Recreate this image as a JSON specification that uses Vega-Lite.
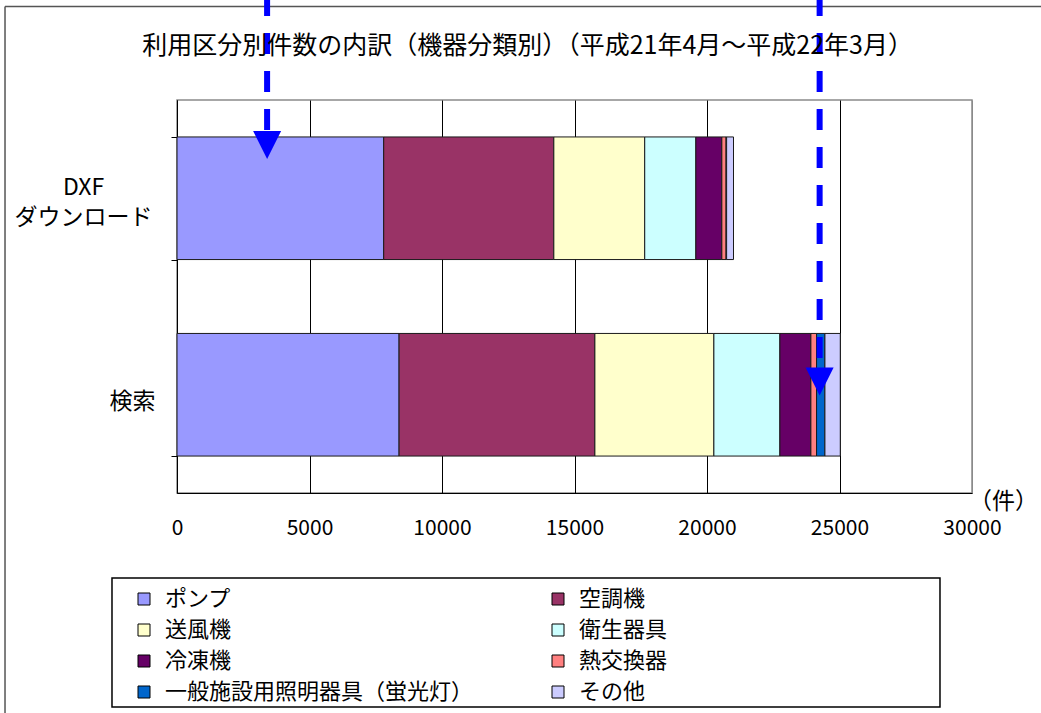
{
  "$schema": "https://vega.github.io/schema/vega-lite/v6.json",
  "width": 795,
  "height": 393,
  "autosize": {"type": "none"},
  "padding": {"left": 177, "top": 100, "right": 69, "bottom": 220},
  "background": "white",
  "config": {
    "font": "Noto Sans CJK JP",
    "view": {"stroke": "#8a8a8a", "strokeWidth": 1.5}
  },
  "title": {
    "text": "利用区分別件数の内訳（機器分類別）（平成21年4月～平成22年3月）",
    "fontSize": 25,
    "fontWeight": "normal",
    "color": "black",
    "anchor": "middle",
    "frame": "group",
    "dx": -47,
    "baseline": "middle",
    "offset": -79
  },
  "datasets": {
    "counts": [
      {"use": "DXFダウンロード", "kind": "ポンプ", "idx": 1, "count": 7800},
      {"use": "DXFダウンロード", "kind": "空調機", "idx": 2, "count": 6420},
      {"use": "DXFダウンロード", "kind": "送風機", "idx": 3, "count": 3430},
      {"use": "DXFダウンロード", "kind": "衛生器具", "idx": 4, "count": 1930},
      {"use": "DXFダウンロード", "kind": "冷凍機", "idx": 5, "count": 980},
      {"use": "DXFダウンロード", "kind": "熱交換器", "idx": 6, "count": 160},
      {"use": "DXFダウンロード", "kind": "一般施設用照明器具（蛍光灯）", "idx": 7, "count": 20},
      {"use": "DXFダウンロード", "kind": "その他", "idx": 8, "count": 260},
      {"use": "検索", "kind": "ポンプ", "idx": 1, "count": 8380},
      {"use": "検索", "kind": "空調機", "idx": 2, "count": 7390},
      {"use": "検索", "kind": "送風機", "idx": 3, "count": 4490},
      {"use": "検索", "kind": "衛生器具", "idx": 4, "count": 2490},
      {"use": "検索", "kind": "冷凍機", "idx": 5, "count": 1170},
      {"use": "検索", "kind": "熱交換器", "idx": 6, "count": 215},
      {"use": "検索", "kind": "一般施設用照明器具（蛍光灯）", "idx": 7, "count": 315},
      {"use": "検索", "kind": "その他", "idx": 8, "count": 580}
    ],
    "frame": [
      {"x": -6490, "x2": 32980, "y": 1.238, "y2": 1.238},
      {"x": -6490, "x2": -6490, "y": 1.238, "y2": -0.6}
    ],
    "legendBox": [
      {"x": -2453, "x2": 28792, "y": -0.2163, "y2": -0.5445}
    ],
    "arrows": [
      {"x": 3400, "top": 1.267, "end": 0.919, "tip": 0.8855},
      {"x": 24250, "top": 1.267, "end": 0.313, "tip": 0.2837}
    ]
  },
  "layer": [
    {
      "data": {"name": "counts"},
      "mark": {"type": "bar", "stroke": "#1a1a1a", "strokeWidth": 1},
      "encoding": {
        "y": {
          "field": "use",
          "type": "nominal",
          "scale": {"domain": ["DXFダウンロード", "検索"], "paddingInner": 0.376, "paddingOuter": 0.188},
          "axis": {
            "title": null,
            "grid": false,
            "domainColor": "black",
            "domainWidth": 1,
            "tickBand": "extent",
            "tickSize": 6,
            "tickColor": "black",
            "labelFontSize": 23,
            "labelColor": "black",
            "labelLineHeight": 30,
            "labelBaseline": "middle",
            "labelExpr": "datum.value === 'DXFダウンロード' ? ['DXF', 'ダウンロード'] : datum.value",
            "labelAlign": {"condition": {"test": "datum.value === 'DXFダウンロード'", "value": "center"}, "value": "right"},
            "labelPadding": {"condition": {"test": "datum.value === 'DXFダウンロード'", "value": 88}, "value": 16},
            "labelOffset": {"condition": {"test": "datum.value === 'DXFダウンロード'", "value": -11}, "value": 7}
          }
        },
        "x": {
          "field": "count",
          "type": "quantitative",
          "stack": "zero",
          "scale": {"domain": [0, 30000], "nice": false, "zero": false},
          "axis": {
            "title": "（件）",
            "titleFontSize": 23,
            "titleFontWeight": "normal",
            "titleColor": "black",
            "titleAngle": 0,
            "titleAlign": "center",
            "titleBaseline": "middle",
            "titleX": 826,
            "titleY": 8,
            "values": [0, 5000, 10000, 15000, 20000, 25000, 30000],
            "format": "d",
            "labelFontSize": 21,
            "labelColor": "black",
            "labelPadding": 24,
            "labelFlush": false,
            "labelOverlap": false,
            "ticks": false,
            "domainColor": "black",
            "domainWidth": 1,
            "grid": true,
            "gridWidth": 1,
            "gridColor": {"condition": {"test": "datum.value === 30000", "value": "#8a8a8a"}, "value": "black"}
          }
        },
        "color": {
          "field": "kind",
          "type": "nominal",
          "scale": {
            "domain": ["ポンプ", "送風機", "冷凍機", "一般施設用照明器具（蛍光灯）", "空調機", "衛生器具", "熱交換器", "その他"],
            "range": ["#9999FF", "#FFFFCC", "#660066", "#0066CC", "#993366", "#CCFFFF", "#FF8080", "#CCCCFF"]
          },
          "legend": {
            "title": null,
            "orient": "none",
            "legendX": -44,
            "legendY": 488,
            "columns": 2,
            "columnPadding": 73,
            "rowPadding": 9,
            "padding": 0,
            "symbolType": "square",
            "symbolSize": 144,
            "symbolStrokeColor": "black",
            "symbolStrokeWidth": 1,
            "labelFontSize": 22,
            "labelColor": "black",
            "labelOffset": 10,
            "labelLimit": 400
          }
        },
        "order": {"field": "idx", "type": "quantitative"}
      }
    },
    {
      "data": {"name": "frame"},
      "mark": {"type": "rule", "color": "#555555", "strokeWidth": 1.5},
      "encoding": {
        "x": {"field": "x", "type": "quantitative", "scale": {"domain": [0, 30000], "nice": false, "zero": false}},
        "x2": {"field": "x2"},
        "y": {"field": "y", "type": "quantitative", "scale": {"domain": [0, 1], "nice": false, "zero": false}, "axis": null},
        "y2": {"field": "y2"}
      }
    },
    {
      "data": {"name": "legendBox"},
      "mark": {"type": "rect", "fill": "white", "stroke": "black", "strokeWidth": 1.5},
      "encoding": {
        "x": {"field": "x", "type": "quantitative", "scale": {"domain": [0, 30000], "nice": false, "zero": false}},
        "x2": {"field": "x2"},
        "y": {"field": "y", "type": "quantitative", "scale": {"domain": [0, 1], "nice": false, "zero": false}, "axis": null},
        "y2": {"field": "y2"}
      }
    },
    {
      "data": {"name": "arrows"},
      "mark": {"type": "rule", "color": "#0000FF", "strokeWidth": 6, "strokeDash": [21, 17]},
      "encoding": {
        "x": {"field": "x", "type": "quantitative", "scale": {"domain": [0, 30000], "nice": false, "zero": false}},
        "y": {"field": "top", "type": "quantitative", "scale": {"domain": [0, 1], "nice": false, "zero": false}, "axis": null},
        "y2": {"field": "end"}
      }
    },
    {
      "data": {"name": "arrows"},
      "mark": {"type": "point", "shape": "M-1,-1L1,-1L0,1Z", "filled": true, "color": "#0000FF", "opacity": 1, "size": 784, "strokeWidth": 0},
      "encoding": {
        "x": {"field": "x", "type": "quantitative", "scale": {"domain": [0, 30000], "nice": false, "zero": false}},
        "y": {"field": "tip", "type": "quantitative", "scale": {"domain": [0, 1], "nice": false, "zero": false}, "axis": null}
      }
    }
  ],
  "resolve": {"scale": {"y": "independent"}}
}
